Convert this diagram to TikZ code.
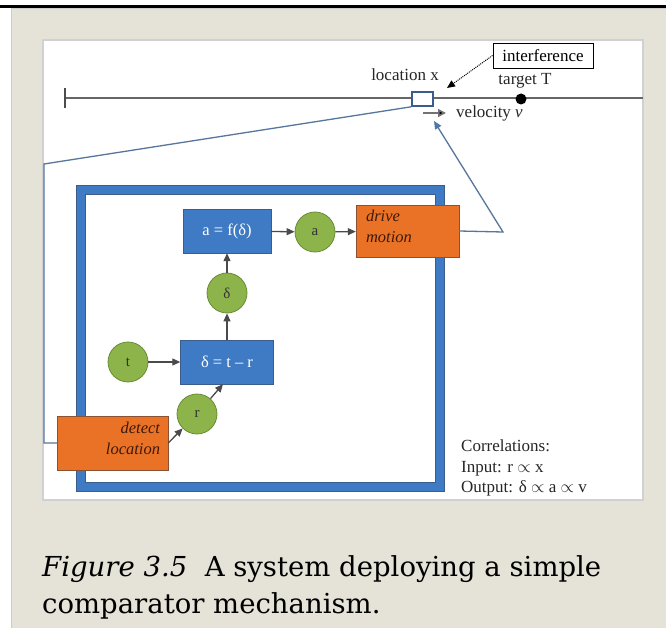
\documentclass[tikz,border=0pt]{standalone}
\usepackage{fontspec}
\setmainfont{Liberation Serif}
\newfontfamily\capfont{DejaVu Serif}
\usepackage{tikz}
\usetikzlibrary{positioning,shapes,arrows.meta,backgrounds,fit}

\definecolor{paper}{HTML}{E5E2D8}
\definecolor{boxblue}{HTML}{3F7BC4}
\definecolor{framedark}{HTML}{3A5D8C}
\definecolor{leaf}{HTML}{8DB34B}
\definecolor{leafdark}{HTML}{6A8C36}
\definecolor{rust}{HTML}{EA7226}
\definecolor{rustdark}{HTML}{8A5232}
\definecolor{rusttext}{HTML}{3F1A08}
\definecolor{steel}{HTML}{56769C}
\definecolor{arrowgray}{HTML}{4A4A4A}

\begin{document}
\begin{tikzpicture}[x=1pt,y=-1pt,
    >={Triangle[length=8pt,width=7pt]},
    bb/.style={%
      rectangle, draw=framedark, fill=boxblue, text=white,
      minimum height=44pt, inner sep=2pt, align=center,
      font=\fontsize{16.5}{19}\selectfont
    },
    cc/.style={%
      circle, draw=leafdark, thick, fill=leaf, text=black!80,
      minimum size=40pt, inner sep=0pt, font=\fontsize{15}{17}\selectfont
    },
    ob/.style={%
      rectangle, draw=rustdark, fill=rust, inner sep=0pt
    },
    obtext/.style={%
      inner sep=0pt, text=rusttext, font=\fontsize{16.5}{21}\selectfont\itshape
    },
    lbl/.style={%
      inner sep=0pt, text=black!85, font=\fontsize{17}{20}\selectfont
    },
    gr/.style={->, draw=arrowgray, line width=1.3pt},
    link/.style={draw=steel, line width=1.3pt}
]
    % page
    \useasboundingbox (0,0) rectangle (666,628);
    \fill[white] (0,0) rectangle (666,628);
    \fill[paper, draw=black!20, line width=1.2pt] (11.5,8) rectangle (668,630);
    \draw[black, line width=2.5pt] (0,6.5) -- (666,6.5);
    \fill[white, draw=black!18, line width=1.2pt] (43,40) rectangle (643,500);

    % track
    \coordinate (axL) at (65,98);
    \coordinate (axR) at (643,98);
    \draw[black!60, line width=1.6pt] (axL) -- (axR);
    \draw[black!70, line width=1.3pt] (65,88) -- (65,108);
    \node[circle, fill=black, inner sep=0pt, minimum size=11pt] (tgt) at (521,99) {};
    \node[lbl] (tgtT) at (525,81) {target T};
    \node[lbl] (locx) at (405,75) {location x};
    \node[draw=black, line width=0.9pt, fill=white, minimum width=100pt,
          minimum height=25pt, inner sep=0pt, font=\fontsize{17}{20}\selectfont]
          (interf) at (543,55.5) {interference};
    \coordinate (ltip) at (447,88);
    \draw[->, densely dotted, line width=1pt] (interf.west) -- (ltip);
    \coordinate (vtail) at (423,113);
    \coordinate (vhead) at (446,113);
    \draw[->, black!55, line width=1.6pt, >={Triangle[length=8pt,width=8pt,fill=black]}] (vtail) -- (vhead);
    \node[lbl, anchor=west] (vel) at (456,113) {velocity \textit{v}};

    % comparator frame
    \draw[framedark, line width=10pt] (81,190) rectangle (440,487);
    \draw[boxblue, line width=7.5pt] (81,190) rectangle (440,487);

    \node[bb, minimum width=88pt] (fbox) at (227,231) {a = f(δ)};
    \node[cc] (ca) at (315,232) {a};
    \node[ob, minimum width=103pt, minimum height=52pt] (drive) at (407.5,231) {};
    \node[obtext, anchor=north west, align=left] at (drive.north west) [xshift=10pt, yshift=-5pt] {drive\\motion};
    \node[cc] (cd) at (227,293) {δ};
    \node[bb, minimum width=93pt] (dbox) at (227,362) {δ = t – r};
    \node[cc] (ct) at (128,362) {t};
    \node[cc] (cr) at (197,414) {r};
    \node[ob, minimum width=111pt, minimum height=54pt] (detect) at (112.5,443) {};
    \node[obtext, anchor=north east, align=right] at (detect.north east) [xshift=-8pt, yshift=-6pt] {detect\\location};

    % sensing and driving links
    \node[draw=framedark, line width=1.6pt, fill=white, minimum width=21pt,
          minimum height=14pt, inner sep=0pt] (loc) at (422.5,99) {};
    \coordinate (lk1) at (44,164);
    \coordinate (apex) at (503,232);
    \coordinate (vtip) at (434,121);
    \draw[link] (loc.south west) -- (lk1) |- (detect.west);
    \draw[link, ->, >={Triangle[length=8pt,width=7pt,fill=boxblue]}] (drive.east) -- (apex) -- (vtip);

    \path (fbox)  edge[gr] (ca)
          (ca)    edge[gr] (drive)
          (cd)    edge[gr] (fbox)
          (dbox)  edge[gr] (cd)
          (ct)    edge[gr] (dbox)
          (cr)    edge[gr] ([xshift=-4pt]dbox.south)
          (detect.east) edge[gr] (cr)
    ;

    \node[lbl, anchor=north west, align=left, font=\fontsize{17}{20.5}\selectfont]
          (corr) at (461,440) {Correlations:\\Input: r $\propto$ x\\Output: δ $\propto$ a $\propto$ v};

    % caption
    \node[anchor=base west, inner sep=0pt, font=\capfont\fontsize{27.5}{33}\selectfont]
          (cap1) at (42,576) {\textit{Figure 3.5}\ \ A system deploying a simple};
    \node[anchor=base west, inner sep=0pt, font=\capfont\fontsize{27.5}{33}\selectfont]
          (cap2) at (42,613) {comparator mechanism.};
\end{tikzpicture}
\end{document}
